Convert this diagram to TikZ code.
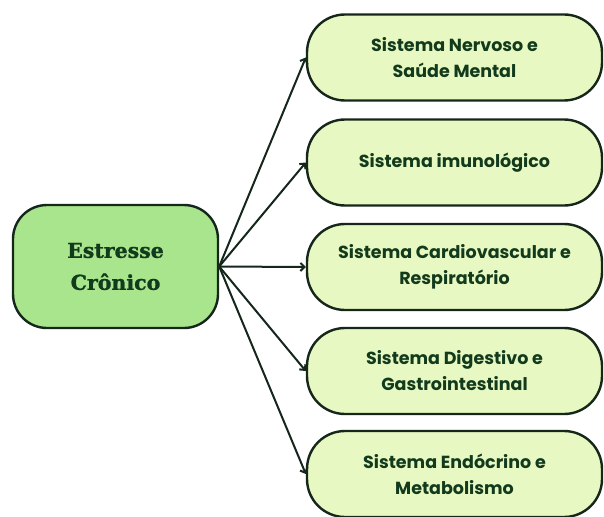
\documentclass[tikz,border=0pt]{standalone}
\usepackage{fontspec}
\usetikzlibrary{arrows.meta}
\newfontfamily\raizfont{DejaVu Serif}[BoldFont={DejaVu Serif Bold}, BoldFeatures={FakeBold=1.2}]
\newfontfamily\ramofont{Poppins}[BoldFont={Poppins Bold}]
\definecolor{verderaiz}{HTML}{A8E58C}
\definecolor{verderamo}{HTML}{E8F8C2}
\definecolor{contorno}{HTML}{15261A}
\definecolor{textoverde}{HTML}{123A1C}
\tikzset{
  raiz/.style={draw=contorno, line width=2.4pt, fill=verderaiz, rounded corners=34pt,
    minimum width=205pt, minimum height=123pt, align=center, text=textoverde,
    font=\raizfont\bfseries\fontsize{20.5}{32}\selectfont},
  ramo/.style={draw=contorno, line width=2.4pt, fill=verderamo, rounded corners=38pt,
    minimum width=295pt, minimum height=86pt, align=center, text=textoverde,
    font=\ramofont\bfseries\fontsize{17.5}{26}\selectfont},
  seta/.style={draw=contorno, line width=2pt, -{Straight Barb[length=4pt,width=8pt]}}
}

\begin{document}
\begin{tikzpicture}[x=1pt,y=-1pt]
  %%%%% START %%%%%
  \useasboundingbox (0,0) rectangle (604,516);

  \node[raiz] (estresse) at (115.5,266.5) {Estresse\\Crônico};

  \node[ramo] (nervoso)   at (454.5,57.5)  {Sistema Nervoso e\\Saúde Mental};
  \node[ramo] (imuno)     at (454.5,162.5) {Sistema imunológico};
  \node[ramo] (cardio)    at (454.5,267)   {Sistema Cardiovascular e\\Respiratório};
  \node[ramo] (digestivo) at (454.5,371)   {Sistema Digestivo e\\Gastrointestinal};
  \node[ramo] (endocrino) at (454.5,474)   {Sistema Endócrino e\\Metabolismo};

  \foreach \alvo in {nervoso,imuno,cardio,digestivo,endocrino}
    \draw[seta] (estresse.east) -- (\alvo.west);

  %%%%% END %%%%%
\end{tikzpicture}
\end{document}
